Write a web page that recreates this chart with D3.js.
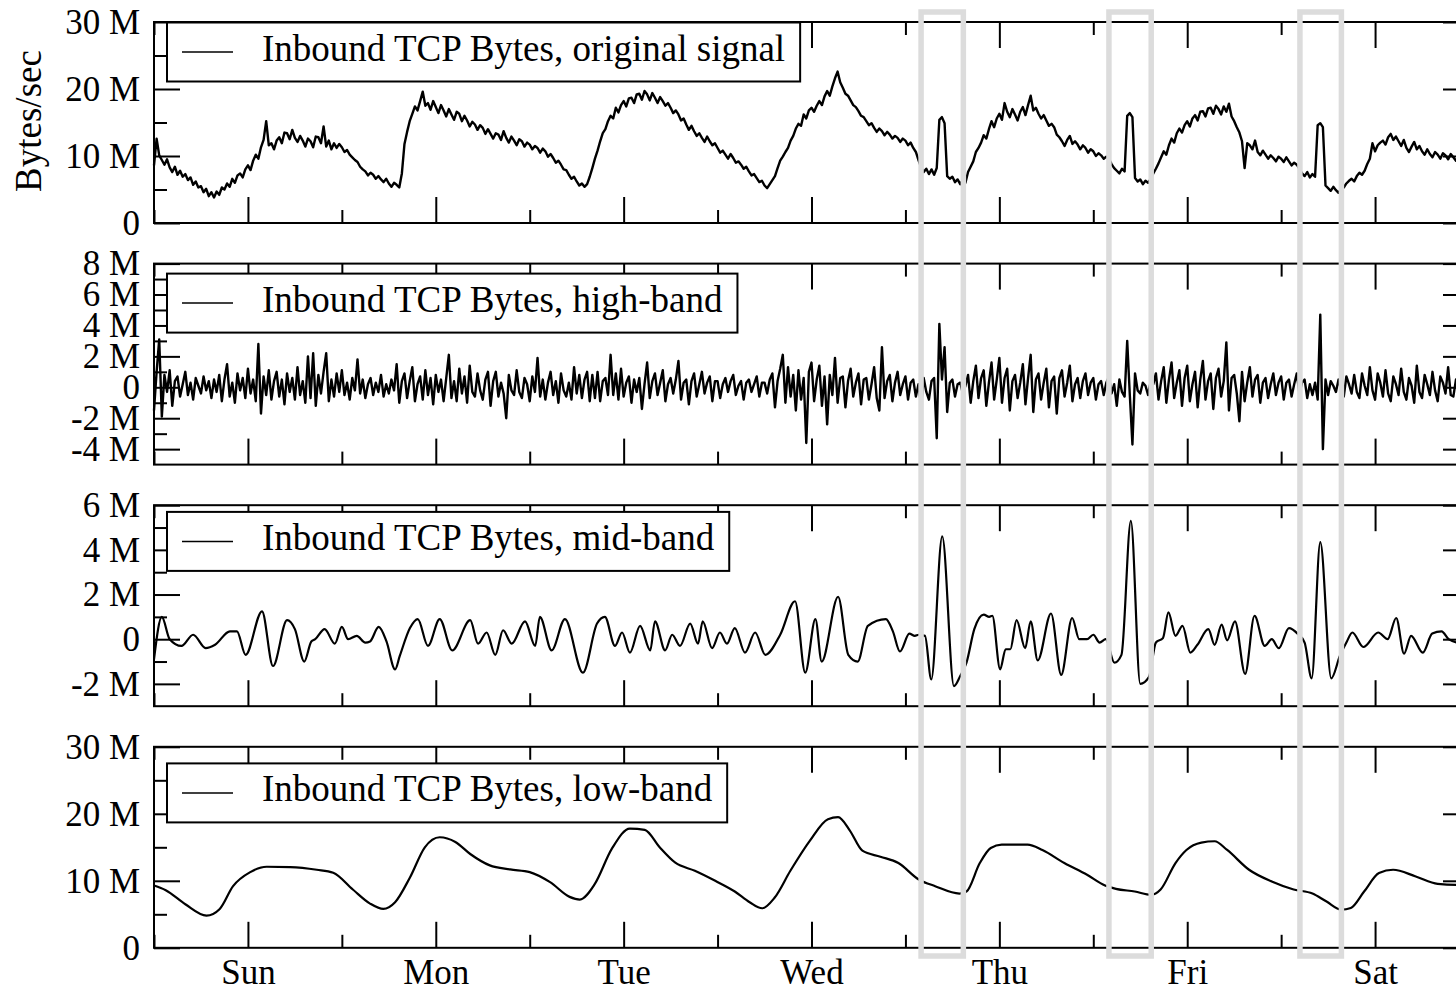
<!DOCTYPE html>
<html>
<head>
<meta charset="utf-8">
<script src="https://cdn.jsdelivr.net/npm/d3@7"></script>
<style>
  body { margin: 0; background: #fff; }
  svg { display: block; font-family: "Liberation Serif", "Times New Roman", serif; }
</style>
</head>
<body>
<svg id="chart" width="1456" height="992"></svg>
<script>
// time axis: hours since Sunday 00:00, one week
const dayLabels = ['Sun', 'Mon', 'Tue', 'Wed', 'Thu', 'Fri', 'Sat'];
const sampleStep = 1 / 3; // hours between samples of the two raw series (20 min)

// original signal, M bytes/sec, one row = 8 hours
const originalSignal = [
  8.6, 12.6, 10.1, 9.4, 8.7, 9.5, 8.3, 7.6, 8.4, 7.2, 7.8, 6.9, 7.3, 6.4, 6.8, 5.7, 6.2, 5.3, 5.5, 4.6, 5.1, 4.0, 4.6, 3.8,
  4.7, 4.2, 5.3, 5.0, 5.9, 5.4, 6.6, 6.0, 7.1, 7.4, 6.8, 8.0, 8.6, 7.9, 9.3, 10.2, 9.6, 11.3, 12.4, 15.2, 11.6, 11.9, 11.0, 12.3,
  12.8, 11.9, 13.5, 13.4, 12.5, 13.9, 12.7, 12.1, 13.0, 12.3, 11.4, 12.6, 12.2, 11.3, 12.9, 12.8, 11.9, 14.4, 11.4, 12.3, 11.0, 11.9, 11.2, 11.8,
  11.3, 10.6, 10.9, 10.2, 9.8, 9.4, 9.1, 8.4, 8.0, 7.7, 7.1, 7.5, 7.2, 6.6, 7.0, 6.5, 6.1, 6.6, 5.9, 5.4, 6.0, 5.7, 5.3, 7.4,
  11.8, 13.6, 15.2, 16.3, 17.4, 16.8, 18.2, 19.6, 17.5, 17.9, 16.9, 18.2, 17.3, 16.4, 17.6, 16.8, 15.9, 17.0, 16.2, 15.4, 16.6, 16.3, 15.2, 16.0,
  15.3, 14.4, 15.1, 14.7, 13.9, 14.6, 14.2, 13.3, 14.0, 13.3, 12.6, 13.4, 13.2, 12.4, 13.7, 12.7, 12.0, 12.9, 12.3, 11.6, 12.5, 12.2, 11.4, 12.0,
  11.7, 11.0, 11.5, 11.2, 10.5, 11.1, 10.7, 9.9, 10.3, 9.7, 9.0, 9.3, 8.7, 8.0, 7.9, 7.2, 6.6, 6.9, 6.2, 5.6, 5.9, 5.4, 5.8, 6.9,
  8.2, 9.6, 10.8, 12.2, 13.4, 14.0, 15.2, 16.0, 15.6, 17.2, 16.5, 17.6, 18.2, 17.4, 18.6, 18.7, 17.9, 19.2, 19.3, 18.4, 19.7, 19.2, 18.3, 19.4,
  18.7, 17.9, 18.8, 18.2, 17.5, 17.9, 17.2, 16.4, 16.8, 16.2, 15.3, 15.6, 14.7, 13.9, 14.5, 13.7, 13.0, 13.4, 12.7, 12.1, 12.9, 12.2, 11.6, 11.9,
  11.2, 10.5, 10.8, 10.2, 9.6, 10.3, 9.7, 9.0, 9.2, 8.7, 8.1, 8.4, 7.7, 7.1, 7.3, 6.7, 6.1, 6.3, 5.6, 5.2, 5.8, 6.4, 7.0, 8.2,
  9.3, 9.9, 10.6, 11.2, 12.3, 13.0, 14.1, 14.8, 14.5, 16.2, 15.6, 16.8, 17.2, 16.6, 17.5, 18.2, 17.6, 18.9, 19.7, 19.0, 20.4, 21.6, 22.6, 21.0,
  20.2, 19.3, 19.0, 18.3, 17.6, 17.3, 16.7, 16.0, 15.8, 15.2, 14.6, 14.9, 14.2, 13.6, 14.1, 13.7, 13.1, 13.6, 13.2, 12.6, 13.0, 12.7, 12.1, 12.6,
  12.3, 11.6, 12.0, 11.2, 10.6, 9.4, 8.3, 7.6, 8.1, 7.3, 8.0, 7.2, 8.2, 15.4, 15.8, 14.9, 7.0, 6.6, 6.9, 6.1, 6.5, 5.8, 6.4, 6.0,
  7.6, 8.4, 9.2, 10.6, 11.2, 12.0, 13.1, 12.6, 14.0, 15.2, 14.3, 15.6, 16.3, 15.4, 17.9, 16.6, 15.8, 17.0, 16.2, 15.3, 16.6, 17.3, 16.1, 17.6,
  19.0, 16.8, 17.2, 16.3, 15.6, 16.1, 15.3, 14.5, 14.8, 14.3, 13.2, 12.8, 12.2, 11.5, 12.4, 13.0, 11.8, 12.2, 11.7, 11.0, 11.6, 11.2, 10.5, 11.0,
  10.7, 10.0, 10.4, 10.1, 9.6, 9.9, 9.6, 8.8, 8.2, 7.8, 7.4, 8.1, 7.7, 16.0, 16.4, 15.8, 6.7, 6.2, 6.5, 5.8, 6.3, 6.0, 6.6, 7.4,
  8.1, 8.9, 9.8, 10.7, 10.2, 11.6, 12.6, 12.0, 13.4, 14.1, 13.5, 14.6, 15.2, 14.4, 15.6, 16.1, 15.3, 16.6, 16.7, 15.9, 17.1, 17.2, 16.3, 17.5,
  17.0, 16.2, 17.4, 16.6, 17.8, 15.9, 15.2, 14.3, 13.5, 12.2, 8.2, 11.9, 11.6, 11.0, 12.3, 10.6, 10.1, 10.8, 10.2, 9.6, 10.1, 9.7, 9.2, 9.9,
  9.6, 9.1, 9.8, 9.2, 8.6, 9.0, 8.7, 8.1, 7.4, 7.0, 7.6, 6.8, 7.3, 6.9, 14.6, 14.9, 14.3, 5.6, 5.2, 4.8, 5.4, 4.9, 4.5, 5.1,
  5.3, 5.9, 6.3, 6.6, 6.2, 7.0, 7.5, 7.2, 7.8, 8.8, 9.6, 11.9, 10.7, 11.6, 12.0, 12.3, 11.7, 12.8, 13.3, 12.4, 12.9, 12.2, 11.5, 12.4,
  11.2, 10.6, 11.4, 12.1, 11.0, 11.5, 10.7, 10.2, 11.0, 10.3, 9.8, 10.6, 10.2, 9.6, 10.4, 10.1, 9.5, 10.3, 9.8, 9.3, 10.0, 9.7, 9.2, 9.8,
  9.6
];

// high-band component, M bytes/sec, one row = 8 hours
const highBand = [
  -1.5, 1.0, 3.1, -1.9, 0.8, -0.3, 1.1, -1.2, 0.4, 0.7, -0.6, 0.2, 1.0, -0.5, 0.3, -0.8, 0.6, 0.1, -0.4, 0.7, -0.2, 0.4, -0.7, 0.5,
  -0.3, 0.8, -0.9, 0.5, 1.5, -0.6, 0.3, -1.0, 0.9, -0.2, 0.6, -0.7, 1.2, -0.4, 0.5, -0.9, 2.8, -1.7, 0.7, -0.5, 1.1, -0.8, 0.4, 1.0,
  -0.6, 0.5, -1.1, 0.9, -0.3, 0.6, -0.8, 1.3, -0.5, 0.4, -1.0, 2.0, -0.7, 2.2, -1.2, 0.8, -0.4, 1.0, 2.2, -0.9, 0.5, -0.6, 0.9, -0.3,
  1.1, -0.5, 0.3, -0.8, 0.6, -0.2, 1.8, -0.4, 0.5, -0.7, 0.2, 0.6, -0.5, 0.3, -0.3, 0.8, -0.6, 0.2, -0.4, 0.5, -0.2, 1.5, -1.0, 0.4,
  0.9, -0.7, 0.4, 1.3, -0.9, 0.2, 0.7, -0.8, 1.1, -0.5, 0.6, -1.1, 0.8, -0.3, 0.5, -0.9, 0.6, 2.1, -0.7, 0.4, -0.9, 1.2, -0.4, 0.7,
  -1.0, 1.4, -0.3, -0.6, 0.9, -0.2, -0.8, 0.5, 1.0, -1.2, 0.4, 1.0, -0.6, 0.3, -0.4, -2.0, 0.8, -0.2, -0.5, 1.1, -0.3, -0.7, 0.6, 0.2,
  -0.9, 0.7, -0.3, 1.9, -0.6, 0.5, -0.8, 0.3, 1.0, -0.5, 0.4, -1.0, 0.9, -0.2, -0.6, 0.3, -0.8, 1.3, -0.4, 0.8, -0.7, 0.5, 1.0, -0.9,
  0.8, -0.7, 1.0, -0.9, 0.4, 0.6, -0.5, 2.1, -0.5, 0.9, -0.8, 1.2, -0.6, 0.3, 0.7, -1.0, 0.5, -0.3, 0.6, -1.4, 0.2, 1.6, -0.7, 0.4,
  0.9, -0.5, 0.3, 1.1, -0.9, 0.2, 0.6, -0.4, 0.5, 1.7, -0.8, 0.3, 0.5, -1.1, 0.4, 0.9, -0.6, 0.2, 1.0, -0.4, 0.3, 0.7, -0.9, 0.4,
  0.4, -0.7, 0.2, 0.6, -0.3, 0.4, 0.8, -0.5, 0.1, 0.4, -0.8, 0.3, 0.5, -0.3, 0.2, 0.7, -0.6, 0.3, 0.3, -0.4, 0.5, 0.9, -1.3, 0.4,
  1.2, 2.1, -1.0, 1.3, -0.6, 0.8, -1.5, 1.1, -0.8, 0.6, -3.6, 1.0, 1.6, -0.9, 0.5, 1.4, -1.2, 0.7, -2.4, 0.8, -0.5, 1.9, -1.0, 0.6,
  0.7, -1.3, 0.4, 1.2, -0.6, 0.3, 0.9, -1.1, 0.5, 0.6, -0.8, 0.2, 1.3, -0.7, -1.5, 2.6, -0.7, 0.4, 0.8, -0.9, 0.3, 1.0, -0.5, 0.2,
  0.7, -0.8, 0.3, 0.5, -0.6, 0.2, -1.2, 0.6, -0.3, -0.8, 0.4, 0.6, -3.3, 4.1, 0.5, 2.6, -1.6, 0.3, 0.5, -0.6, 0.2, 0.3, -0.4, 0.1,
  0.8, -1.0, 0.4, 1.4, -0.7, 0.6, 1.1, -1.2, 0.3, 1.6, -0.8, 0.5, 1.9, -1.0, 0.6, 1.2, -1.5, 0.4, 0.8, -0.7, 0.3, 1.5, -1.1, 0.6,
  2.1, -1.6, 0.5, 0.9, -0.8, 0.3, 1.2, -1.3, 0.4, 0.7, -1.7, 0.6, 1.1, -0.6, 0.3, 1.4, -0.9, 0.2, 0.6, -0.7, 0.4, 0.9, -0.5, 0.3,
  0.6, -0.8, 0.2, 0.4, -0.5, 0.3, 0.7, -0.4, 0.2, -1.2, 0.5, -0.3, -0.6, 3.0, -0.5, -3.7, 0.9, -0.2, -0.4, 0.3, 0.1, -0.5, 0.4, 0.2,
  0.9, -0.8, 0.4, 1.3, -1.0, 0.5, 1.6, -0.7, 0.3, 1.1, -1.2, 0.6, 1.4, -0.9, 0.2, 1.0, -1.3, 0.5, 1.7, -0.8, 0.4, 0.9, -1.4, 0.6,
  1.2, -0.6, 0.4, 2.9, -1.5, 0.6, 0.8, -0.4, -2.2, 1.0, -0.9, 0.3, 1.3, -0.6, 0.5, 0.8, -1.0, 0.3, 0.6, -0.7, 0.2, 0.9, -0.5, 0.3,
  0.7, -0.8, 0.3, 0.5, -0.6, 0.2, 0.9, -0.4, 0.3, 0.5, -0.7, 0.2, -0.5, 0.3, -0.8, 4.7, -4.0, 0.5, -0.5, 0.4, 0.1, -0.3, 0.5, -0.2,
  -0.6, 0.7, 0.2, -0.4, 0.8, -0.3, -0.7, 0.9, 0.1, -0.5, 1.3, -0.2, -0.8, 0.9, 0.3, -0.6, 1.1, -0.4, -0.9, 0.7, 0.2, -0.5, 1.2, -0.3,
  -0.8, 0.6, 0.1, -1.0, 1.4, -0.3, -0.7, 0.8, 0.2, -0.5, 1.0, -0.2, -0.9, 0.7, 0.3, -0.4, 1.3, -0.5, -0.6, 0.5, 0.2, -0.7, 0.6, -0.1,
  -0.3
];

// mid-band component: [hour, M bytes/sec] at its turning points
const midBand = [
  [0, -0.9], [1.0, 1.0], [2.0, 0], [3.5, -0.3], [5.0, 0.2], [6.6, -0.4], [7.8, -0.25], [9.7, 0.35], [10.6, 0.35],
  [11.7, -0.7], [13.8, 1.25], [15.2, -1.2], [17.0, 0.85], [18.0, 0.45], [19.2, -1.0], [20.1, -0.1], [20.6, 0],
  [21.8, 0.45], [23.1, -0.2], [24.0, 0.55], [24.8, 0], [25.9, 0.15], [27.0, -0.15], [27.6, -0.1], [28.7, 0.55],
  [29.7, -0.1], [30.8, -1.35], [31.4, -0.75], [32.7, 0.5], [33.7, 0.9], [35.0, -0.3], [36.5, 0.9], [38.1, -0.5],
  [40.4, 0.85], [41.4, -0.2], [42.5, 0.3], [43.6, -0.7], [44.6, 0.4], [45.7, -0.2], [47.4, 0.8], [48.7, -0.3],
  [49.3, 1.0], [50.8, -0.5], [52.5, 0.9], [54.8, -1.5], [56.6, 0.7], [57.6, 1.0], [58.9, -0.3], [59.8, 0.3],
  [60.8, -0.6], [62.1, 0.6], [63.4, -0.5], [64.0, 0.8], [65.3, -0.5], [66.2, 0.2], [67.2, -0.3], [68.5, 0.7],
  [69.5, -0.2], [70.1, 0.8], [71.3, -0.4], [72.3, 0.3], [73.2, -0.2], [74.2, 0.5], [75.5, -0.6], [76.8, 0.3],
  [78.1, -0.7], [80.0, 0.2], [81.9, 1.7], [83.2, -1.5], [84.5, 0.9], [85.3, -1.0], [87.4, 1.9], [88.7, -0.7],
  [89.9, -1.0], [91.2, 0.6], [93.5, 0.9], [94.4, 0.35], [95.3, -0.55], [96.5, 0.25], [97.2, 0.15], [97.7, 0.2],
  [98.5, 0.15], [99.3, -1.8], [100.7, 4.6], [102.2, -2.1], [103.0, -1.65], [103.8, -1.05], [104.8, 0.45],
  [106.0, 1.1], [106.7, 1.0], [107.1, 1.05], [108.1, -1.35], [108.8, -0.45], [109.4, -0.45], [110.2, 0.85],
  [111.3, -0.4], [112.0, 0.8], [112.9, -0.95], [114.6, 1.15], [115.9, -1.6], [117.3, 0.95], [118.2, 0], [119.2, 0],
  [120.0, 0.2], [120.8, -0.15], [121.6, 0], [122.7, -1.05], [123.6, -0.7], [124.8, 5.3], [126.0, -2.0], [127.1, -1.7],
  [128.0, -0.15], [128.9, 0.05], [129.6, 1.2], [130.5, 0.15], [131.4, 0.6], [132.4, -0.6], [133.3, -0.25],
  [134.7, 0.45], [135.5, -0.25], [136.4, 0.65], [137.1, -0.05], [138.1, 0.8], [139.4, -1.55], [140.6, 1.05],
  [141.9, -0.3], [142.8, 0], [143.7, -0.4], [145.0, 0.5], [146.1, 0.25], [147.0, -0.15], [147.9, -1.75],
  [149.0, 4.35], [150.4, -1.75], [151.5, -0.75], [152.4, -0.1], [153.1, 0.3], [154.5, -0.35], [156.4, 0.3],
  [157.6, 0], [158.7, 0.95], [159.7, -0.65], [160.6, 0.15], [162.1, -0.6], [163.3, 0.25], [164.5, 0.35],
  [165.4, 0], [166.7, -0.15], [168, 0]
];

// low-band component: [hour, M bytes/sec]
const lowBand = [
  [0, 9.3], [1.5, 8.6], [4, 6.5], [6.7, 4.8], [8.4, 5.8], [10.1, 9.2], [12.3, 11.3], [14.4, 12.1], [17.4, 12.05],
  [20.8, 11.65], [22.9, 11.2], [25.4, 8.7], [27.6, 6.6], [29.3, 5.8], [30.8, 6.8], [32.7, 10.5], [34.6, 15],
  [36.5, 16.5], [38.5, 15.8], [40.4, 14], [42.9, 12.3], [45.5, 11.7], [48, 11.3], [50.6, 9.8], [53.1, 7.6],
  [54.4, 7.2], [56.3, 9.5], [58.5, 14.8], [60.8, 17.8], [62.7, 17.6], [64.6, 15], [66.6, 12.7], [69.1, 11.5],
  [71.7, 10], [74.2, 8.4], [76.1, 6.8], [77.7, 5.9], [79.3, 7.5], [81.3, 11.5], [83.8, 16], [86.1, 19.2],
  [87.4, 19.5], [88.9, 17.5], [90.5, 14.5], [92.8, 13.6], [95.1, 12.65], [97.7, 10.2], [99.8, 9.2], [102.9, 8.1],
  [103.8, 8.4], [105.5, 12.65], [106.9, 14.9], [108.3, 15.4], [111.6, 15.4], [113.5, 14.6], [116.3, 12.65],
  [119.2, 10.9], [121.5, 9.3], [122.9, 8.8], [125.3, 8.4], [127.4, 7.9], [128.6, 8.7], [130.5, 12.65],
  [131.9, 14.6], [133.8, 15.7], [135.5, 15.9], [137.1, 14.6], [139.9, 11.65], [142.8, 9.9], [145.6, 8.7],
  [148, 8.1], [149.8, 6.9], [151.7, 5.7], [152.9, 5.95], [154.6, 8.4], [156.5, 11.15], [158.3, 11.65],
  [161.2, 10.65], [164, 9.55], [166.7, 9.4], [168, 9.4]
];

// the three early-morning windows marked in grey: [start hour, end hour]
const highlightWindows = [[98, 103.4], [122, 127.4], [146.4, 151.7]];

const legendLabels = [
  'Inbound TCP Bytes, original signal',
  'Inbound TCP Bytes, high-band',
  'Inbound TCP Bytes, mid-band',
  'Inbound TCP Bytes, low-band'
];
const yDomains = [[0, 30], [-5, 8], [-3, 6], [0, 30]];
const yMajorTicks = [[0, 10, 20, 30], [-4, -2, 0, 2, 4, 6, 8], [-2, 0, 2, 4, 6], [0, 10, 20, 30]];
const yMinorTicks = [[5, 15, 25], [-3, -1, 1, 3, 5, 7], [-1, 1, 3, 5], [5, 15, 25]];
const yAxisTitle = 'Bytes/sec';

const toPairs = vals => vals.map((v, i) => [i * sampleStep, v]);
const series = [toPairs(originalSignal), toPairs(highBand), midBand, lowBand];

const svg = d3.select('#chart');
const margin = {left: 154, top: 22};
const plotW = 1315, plotH = 201, pitch = 241.6;
const majorLen = 26, minorLen = 13;
const tickFont = 35, legendFont = 37;
const legendOffset = [0.5, 10, 6.7, 16.6];

const x = d3.scaleLinear().domain([0, 168]).range([0, plotW]);
const xMajor = d3.range(12, 168, 24);
const xMinor = d3.range(0, 169, 24);

const fmt = d => d === 0 ? '0' : d + ' M';

function styleAxis(sel) {
  sel.select('.domain').remove();
  sel.selectAll('.tick line').attr('stroke', '#000').attr('stroke-width', 2);
  sel.selectAll('.tick text')
    .attr('fill', '#000')
    .style('font-family', '"Liberation Serif", "Times New Roman", serif')
    .style('font-size', tickFont + 'px');
}

series.forEach((data, i) => {
  const g = svg.append('g')
    .attr('transform', 'translate(' + margin.left + ',' + (margin.top + i * pitch) + ')');

  const y = d3.scaleLinear().domain(yDomains[i]).range([plotH, 0]);

  g.append('clipPath').attr('id', 'clip' + i)
    .append('rect').attr('x', -2).attr('y', 0).attr('width', plotW + 4).attr('height', plotH);

  const line = d3.line()
    .x(d => x(d[0]))
    .y(d => y(d[1]))
    .curve(i < 2 ? d3.curveLinear : d3.curveMonotoneX);

  g.append('path')
    .datum(data)
    .attr('clip-path', 'url(#clip' + i + ')')
    .attr('fill', 'none')
    .attr('stroke', '#000')
    .attr('stroke-width', i < 2 ? 2.4 : 2.2)
    .attr('stroke-linejoin', 'round')
    .attr('d', line);

  // ticks on all four sides, pointing inwards
  g.append('g')
    .call(d3.axisLeft(y).tickValues(yMajorTicks[i]).tickSize(-majorLen).tickPadding(14).tickFormat(fmt))
    .call(styleAxis);
  g.append('g')
    .call(d3.axisLeft(y).tickValues(yMinorTicks[i]).tickSize(-minorLen).tickFormat(''))
    .call(styleAxis);
  g.append('g')
    .attr('transform', 'translate(' + plotW + ',0)')
    .call(d3.axisRight(y).tickValues(yMajorTicks[i]).tickSize(-majorLen).tickFormat(''))
    .call(styleAxis);
  g.append('g')
    .attr('transform', 'translate(' + plotW + ',0)')
    .call(d3.axisRight(y).tickValues(yMinorTicks[i]).tickSize(-minorLen).tickFormat(''))
    .call(styleAxis);

  g.append('g')
    .call(d3.axisTop(x).tickValues(xMajor).tickSize(-majorLen).tickFormat(''))
    .call(styleAxis);
  g.append('g')
    .call(d3.axisTop(x).tickValues(xMinor).tickSize(-minorLen).tickFormat(''))
    .call(styleAxis);
  g.append('g')
    .attr('transform', 'translate(0,' + plotH + ')')
    .call(d3.axisBottom(x).tickValues(xMajor).tickSize(-majorLen).tickPadding(11)
      .tickFormat(i === 3 ? (d, k) => dayLabels[k] : ''))
    .call(styleAxis);
  g.append('g')
    .attr('transform', 'translate(0,' + plotH + ')')
    .call(d3.axisBottom(x).tickValues(xMinor).tickSize(-minorLen).tickFormat(''))
    .call(styleAxis);

  g.append('rect')
    .attr('width', plotW).attr('height', plotH)
    .attr('fill', 'none').attr('stroke', '#000').attr('stroke-width', 2);

  // legend
  const lg = g.append('g').attr('transform', 'translate(13,' + legendOffset[i] + ')');
  const box = lg.append('rect').attr('height', 59)
    .attr('fill', '#fff').attr('stroke', '#000').attr('stroke-width', 2);
  lg.append('line')
    .attr('x1', 15).attr('x2', 66).attr('y1', 29.5).attr('y2', 29.5)
    .attr('stroke', '#000').attr('stroke-width', 1.5);
  const txt = lg.append('text')
    .attr('x', 95).attr('y', 38)
    .style('font-size', legendFont + 'px')
    .text(legendLabels[i]);
  box.attr('width', 95 + txt.node().getComputedTextLength() + 15);
});

svg.append('text')
  .attr('transform', 'translate(41,121) rotate(-90)')
  .attr('text-anchor', 'middle')
  .style('font-size', legendFont + 'px')
  .text(yAxisTitle);

// grey windows drawn over everything
svg.append('g')
  .attr('transform', 'translate(' + margin.left + ',0)')
  .selectAll('rect')
  .data(highlightWindows)
  .enter().append('rect')
  .attr('x', d => x(d[0]))
  .attr('width', d => x(d[1]) - x(d[0]))
  .attr('y', 12)
  .attr('height', 944)
  .attr('fill', 'none')
  .attr('stroke', '#dcdcdc')
  .attr('stroke-width', 5.5);
</script>
</body>
</html>
